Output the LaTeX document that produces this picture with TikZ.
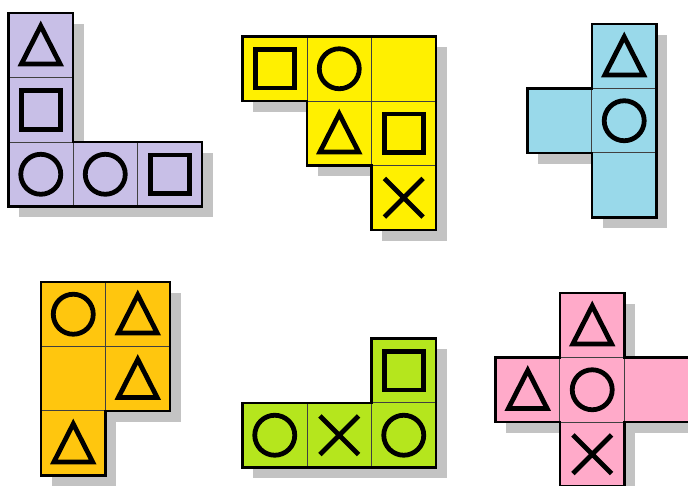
\documentclass[tikz,border=0pt]{standalone}
\definecolor{lilac}{RGB}{200,191,231}
\definecolor{lemon}{RGB}{255,240,0}
\definecolor{sky}{RGB}{153,217,234}
\definecolor{amber}{RGB}{255,198,14}
\definecolor{lime}{RGB}{181,230,29}
\definecolor{rose}{RGB}{255,170,201}
\definecolor{shadowgray}{RGB}{195,195,195}
\tikzset{
  cellbox/.style={draw=black!75, line width=0.4pt},
  rim/.style={draw=black, line width=1pt},
  sym/.style={draw=black, line width=1.9pt},
  dropshadow/.style={fill=shadowgray},
}
% symbols inside one cell (column, row)
\newcommand{\triSym}[2]{\draw[sym,shift={(#1,#2)}] (0.5,0.2) -- (0.8,0.79) -- (0.2,0.79) -- cycle;}
\newcommand{\sqSym}[2]{\draw[sym,shift={(#1,#2)}] (0.2,0.2) rectangle (0.8,0.8);}
\newcommand{\circSym}[2]{\draw[sym,shift={(#1,#2)}] (0.5,0.5) circle[radius=0.31];}
\newcommand{\crossSym}[2]{\draw[sym,shift={(#1,#2)}] (0.2,0.2) -- (0.8,0.8) (0.8,0.2) -- (0.2,0.8);}
\begin{document}
\begin{tikzpicture}[x=0.9cm, y=-0.9cm]
    \useasboundingbox (0,0) rectangle (10.667,7.535);
    % 紫色
    \begin{scope}[shift={(0.132,0.202)}]
        \foreach \c/\r in {0/0,0/1,0/2,1/2,2/2} \fill[dropshadow] (\c+0.17,\r+0.17) rectangle +(1,1);
        \foreach \c/\r in {0/0,0/1,0/2,1/2,2/2} \filldraw[cellbox, fill=lilac] (\c,\r) rectangle +(1,1);
        \draw[rim] (0,0) -- (1,0) -- (1,2) -- (3,2) -- (3,3) -- (0,3) -- cycle;
        \triSym{0}{0} \sqSym{0}{1} \circSym{0}{2} \circSym{1}{2} \sqSym{2}{2}
    \end{scope}
    % 黄色
    \begin{scope}[shift={(3.760,0.566)}]
        \foreach \c/\r in {0/0,1/0,2/0,1/1,2/1,2/2} \fill[dropshadow] (\c+0.17,\r+0.17) rectangle +(1,1);
        \foreach \c/\r in {0/0,1/0,2/0,1/1,2/1,2/2} \filldraw[cellbox, fill=lemon] (\c,\r) rectangle +(1,1);
        \draw[rim] (0,0) -- (3,0) -- (3,3) -- (2,3) -- (2,2) -- (1,2) -- (1,1) -- (0,1) -- cycle;
        \sqSym{0}{0} \circSym{1}{0} \triSym{1}{1} \sqSym{2}{1} \crossSym{2}{2}
    \end{scope}
    % 蓝色
    \begin{scope}[shift={(8.178,0.372)}]
        \foreach \c/\r in {1/0,0/1,1/1,1/2} \fill[dropshadow] (\c+0.17,\r+0.17) rectangle +(1,1);
        \foreach \c/\r in {1/0,0/1,1/1,1/2} \filldraw[cellbox, fill=sky] (\c,\r) rectangle +(1,1);
        \draw[rim] (1,0) -- (2,0) -- (2,3) -- (1,3) -- (1,2) -- (0,2) -- (0,1) -- (1,1) -- cycle;
        \triSym{1}{0} \circSym{1}{1}
    \end{scope}
    % 橙色
    \begin{scope}[shift={(0.636,4.372)}]
        \foreach \c/\r in {0/0,1/0,0/1,1/1,0/2} \fill[dropshadow] (\c+0.17,\r+0.17) rectangle +(1,1);
        \foreach \c/\r in {0/0,1/0,0/1,1/1,0/2} \filldraw[cellbox, fill=amber] (\c,\r) rectangle +(1,1);
        \draw[rim] (0,0) -- (2,0) -- (2,2) -- (1,2) -- (1,3) -- (0,3) -- cycle;
        \circSym{0}{0} \triSym{1}{0} \triSym{1}{1} \triSym{0}{2}
    \end{scope}
    % 绿色
    \begin{scope}[shift={(3.760,5.248)}]
        \foreach \c/\r in {2/0,0/1,1/1,2/1} \fill[dropshadow] (\c+0.17,\r+0.17) rectangle +(1,1);
        \foreach \c/\r in {2/0,0/1,1/1,2/1} \filldraw[cellbox, fill=lime] (\c,\r) rectangle +(1,1);
        \draw[rim] (2,0) -- (3,0) -- (3,2) -- (0,2) -- (0,1) -- (2,1) -- cycle;
        \sqSym{2}{0} \circSym{0}{1} \crossSym{1}{1} \circSym{2}{1}
    \end{scope}
    % 粉色
    \begin{scope}[shift={(7.682,4.543)}]
        \foreach \c/\r in {1/0,0/1,1/1,2/1,1/2} \fill[dropshadow] (\c+0.17,\r+0.17) rectangle +(1,1);
        \foreach \c/\r in {1/0,0/1,1/1,2/1,1/2} \filldraw[cellbox, fill=rose] (\c,\r) rectangle +(1,1);
        \draw[rim] (1,0) -- (2,0) -- (2,1) -- (3,1) -- (3,2) -- (2,2) -- (2,3) -- (1,3) -- (1,2) -- (0,2) -- (0,1) -- (1,1) -- cycle;
        \triSym{1}{0} \triSym{0}{1} \circSym{1}{1} \crossSym{1}{2}
    \end{scope}
\end{tikzpicture}
\end{document}
